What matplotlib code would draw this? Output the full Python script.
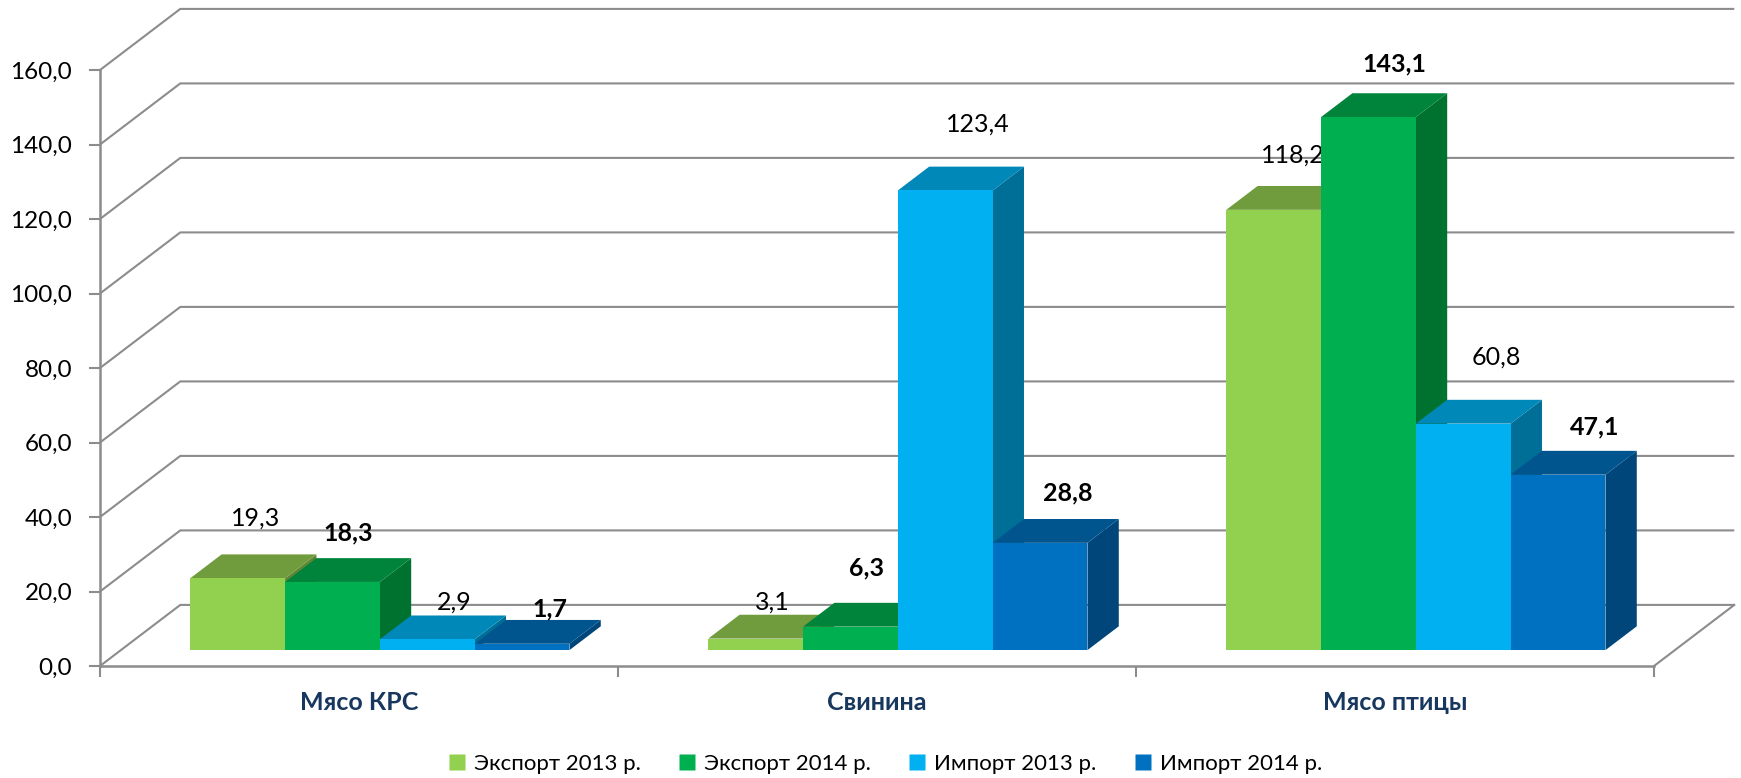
"""Meat export / import, 3D-style clustered bars."""
import matplotlib
matplotlib.use("Agg")
import matplotlib.pyplot as plt
from matplotlib.patches import Polygon
from matplotlib.lines import Line2D

plt.rcParams["font.family"] = ["Lato", "DejaVu Sans"]

OUTPUT_PATH = "out.png"

categories = ["Мясо КРС", "Свинина", "Мясо птицы"]
series_names = ["Экспорт 2013 р.", "Экспорт 2014 р.", "Импорт 2013 р.", "Импорт 2014 р."]
export_2013 = [19.3, 3.1, 118.2]
export_2014 = [18.3, 6.3, 143.1]
import_2013 = [2.9, 123.4, 60.8]
import_2014 = [1.7, 28.8, 47.1]
y_ticks = [0, 20, 40, 60, 80, 100, 120, 140, 160]

# front / top / side shades per series
FRONT = ["#92D050", "#00B050", "#00B0F0", "#0070C0"]
TOP = ["#709C3E", "#00843B", "#0088B8", "#00558F"]
SIDE = ["#5E8733", "#00722F", "#006F97", "#00467A"]
BOLD = [False, True, False, True]
GRID = "#8C8C8C"
CAT_COLOR = "#17375E"

# label nudges in pixels, relative to the bar's top-front centre
LABEL_NUDGE = [
    [(18, 60), (17, 36), (19, 55)],
    [(16, 49), (16, 59), (26, 53)],
    [(27, 37), (33, 66), (33, 67)],
    [(28, 35), (28, 50), (37, 48)],
]

WALL_DX, WALL_DY = 0.155, 16.4   # back-wall offset in data units
BAR_F0, BAR_FD = 0.26, 0.39      # bar front depth and bar depth, as wall fractions
BAR_W = 0.183


def fmt(v):
    return f"{v:.1f}".replace(".", ",")


def build():
    fig = plt.figure(figsize=(17.41, 7.78), dpi=100)
    ax = fig.add_axes([100 / 1741, 112 / 778, 1554 / 1741, 596 / 778])
    ax.set_xlim(0, 3)
    ax.set_ylim(0, 160)
    n_cat = len(categories)

    # walls: gridlines run diagonally back, then along the back wall
    for v in y_ticks:
        ax.plot([0, WALL_DX, n_cat + WALL_DX], [v, v + WALL_DY, v + WALL_DY],
                color=GRID, lw=1.5, clip_on=False, zorder=1, solid_capstyle="butt")
    # floor right edge
    ax.plot([n_cat, n_cat + WALL_DX], [0, WALL_DY], color=GRID, lw=1.5,
            clip_on=False, zorder=1)

    for side in ["top", "right"]:
        ax.spines[side].set_visible(False)
    for side in ["left", "bottom"]:
        ax.spines[side].set_color(GRID)
        ax.spines[side].set_linewidth(1.8)
        ax.spines[side].set_zorder(1)

    ax.set_yticks(y_ticks)
    ax.set_yticklabels([fmt(v) for v in y_ticks], fontsize=17.5, color="#000000")
    ax.tick_params(axis="y", length=8, width=1.5, color=GRID, pad=12)
    ax.set_xticks(range(n_cat + 1))
    ax.set_xticklabels([])
    ax.tick_params(axis="x", length=8, width=1.5, color=GRID)

    for i, name in enumerate(categories):
        ax.annotate(name, xy=(i + 0.5, 0), xycoords=("data", "axes fraction"),
                    xytext=(0, -36), textcoords="offset pixels",
                    ha="center", va="center", fontsize=18, fontweight="bold",
                    color=CAT_COLOR, annotation_clip=False)

    values = [export_2013, export_2014, import_2013, import_2014]
    base = BAR_F0 * WALL_DY
    bdx, bdy = BAR_FD * WALL_DX, BAR_FD * WALL_DY
    for c in range(n_cat):
        for s, vals in enumerate(values):
            v = vals[c]
            xl = c + 0.5 - 2 * BAR_W + s * BAR_W + BAR_F0 * WALL_DX
            z = 10 + (c * 4 + s) * 4
            side = Polygon([(xl + BAR_W, base), (xl + BAR_W + bdx, base + bdy),
                            (xl + BAR_W + bdx, base + v + bdy), (xl + BAR_W, base + v)],
                           closed=True, facecolor=SIDE[s], edgecolor="none",
                           clip_on=False, zorder=z)
            top = Polygon([(xl, base + v), (xl + BAR_W, base + v),
                           (xl + BAR_W + bdx, base + v + bdy), (xl + bdx, base + v + bdy)],
                          closed=True, facecolor=TOP[s], edgecolor="none",
                          clip_on=False, zorder=z + 1)
            ax.add_patch(side)
            ax.add_patch(top)
            ax.bar(xl, v, bottom=base, width=BAR_W, align="edge",
                   color=FRONT[s], edgecolor="none", zorder=z + 2, clip_on=False)
            nx, ny = LABEL_NUDGE[s][c]
            ax.annotate(fmt(v), xy=(xl + BAR_W / 2, base + v),
                        xytext=(nx, ny), textcoords="offset pixels",
                        ha="center", va="center", fontsize=18,
                        fontweight="bold" if BOLD[s] else "normal",
                        color="#000000", zorder=z + 3, annotation_clip=False)

    legend_handles = [Line2D([0], [0], marker="s", linestyle="none", markersize=11,
                             markerfacecolor=FRONT[s], markeredgecolor="none")
                      for s in range(len(series_names))]
    fig.legend(legend_handles, series_names, loc="center", ncol=4, frameon=False,
               bbox_to_anchor=(885 / 1741, 1 - 764 / 778), fontsize=16,
               handletextpad=0.35, columnspacing=1.7, handlelength=0.8)

    fig.savefig(OUTPUT_PATH, dpi=100, facecolor="white")
    plt.close(fig)


if __name__ == "__main__":
    build()
